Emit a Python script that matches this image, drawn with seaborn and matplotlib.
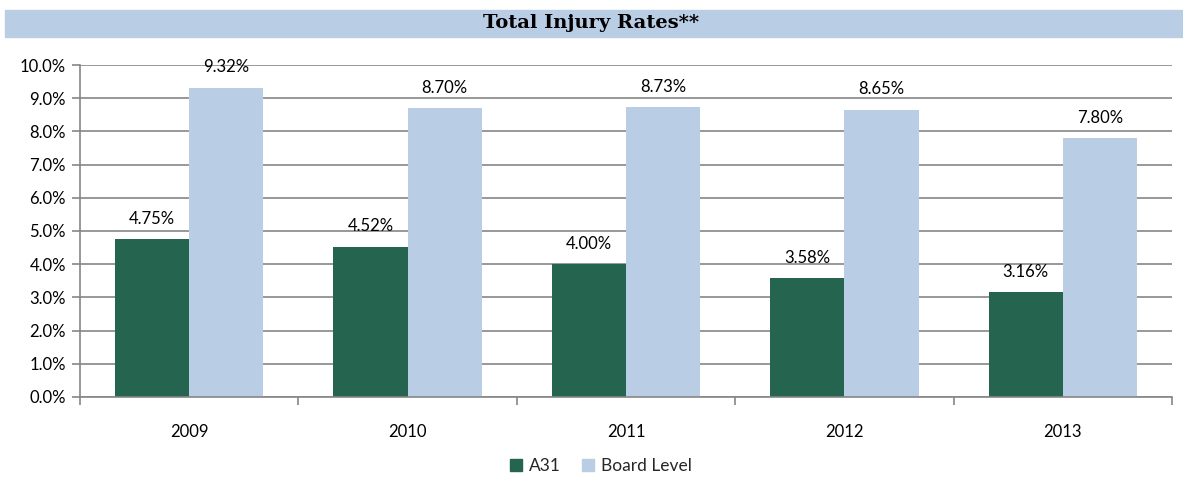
import matplotlib
matplotlib.use("Agg")
import matplotlib.pyplot as plt
import matplotlib.patches as mpatches
from matplotlib.ticker import PercentFormatter, FixedLocator
import pandas as pd
import seaborn as sns

years = ["2009", "2010", "2011", "2012", "2013"]
a31 = [4.75, 4.52, 4.00, 3.58, 3.16]
board = [9.32, 8.70, 8.73, 8.65, 7.80]
series = ["A31", "Board Level"]

df = pd.DataFrame({
    "year": years * 2,
    "rate": a31 + board,
    "series": [series[0]] * len(years) + [series[1]] * len(years),
})

sns.set_style("white")
plt.rcParams["font.family"] = ["Lato", "DejaVu Sans"]

green = "#256550"
blue = "#B9CDE5"
grid = "#868686"

fig = plt.figure(figsize=(11.83, 4.78), dpi=100)
ax = fig.add_axes([0.0676, 0.1695, 0.9231, 0.6945])

sns.barplot(data=df, x="year", y="rate", hue="series", palette=[green, blue],
            width=0.68, saturation=1, linewidth=0, ax=ax, legend=False)

for cont in ax.containers:
    ax.bar_label(cont, labels=[f"{v:.2f}%" for v in cont.datavalues],
                 padding=9, fontsize=12, color="#000000")

ax.set_ylim(0, 10)
ax.set_xlim(-0.5, len(years) - 0.5)
ax.yaxis.set_major_locator(FixedLocator(range(0, 11)))
ax.yaxis.set_major_formatter(PercentFormatter(decimals=1))
ax.yaxis.grid(True, color=grid, linewidth=1.2)
ax.set_axisbelow(True)
ax.set_xlabel("")
ax.set_ylabel("")

ax.spines[["top", "right"]].set_visible(False)
for s in ["left", "bottom"]:
    ax.spines[s].set_color(grid)
    ax.spines[s].set_linewidth(1.2)

ax.tick_params(axis="y", left=True, length=6, color=grid, width=1.2,
               labelsize=12, pad=4, labelcolor="#000000")
ax.tick_params(axis="x", bottom=False, labelsize=12, pad=16,
               labelcolor="#000000")
ax.set_xticks([i + 0.5 for i in range(-1, len(years))], minor=True)
ax.tick_params(axis="x", which="minor", bottom=True, length=6, color=grid,
               width=1.2, direction="out")

# title band
fig.patches.append(mpatches.Rectangle((5 / 1183, 0.9226), 1, 0.0564,
                                      transform=fig.transFigure,
                                      color=blue, zorder=0))
fig.text(0.5, 0.951, "Total Injury Rates**", ha="center", va="center",
         fontsize=14, fontweight="bold", family="DejaVu Serif",
         color="#000000")

handles = [mpatches.Patch(color=green, label=series[0]),
           mpatches.Patch(color=blue, label=series[1])]
fig.legend(handles=handles, loc="center", bbox_to_anchor=(0.508, 0.025),
           ncol=2, frameon=False, fontsize=12.5, handlelength=0.7,
           handleheight=0.7, handletextpad=0.4, columnspacing=1.2)

fig.savefig("out.png", dpi=100)
